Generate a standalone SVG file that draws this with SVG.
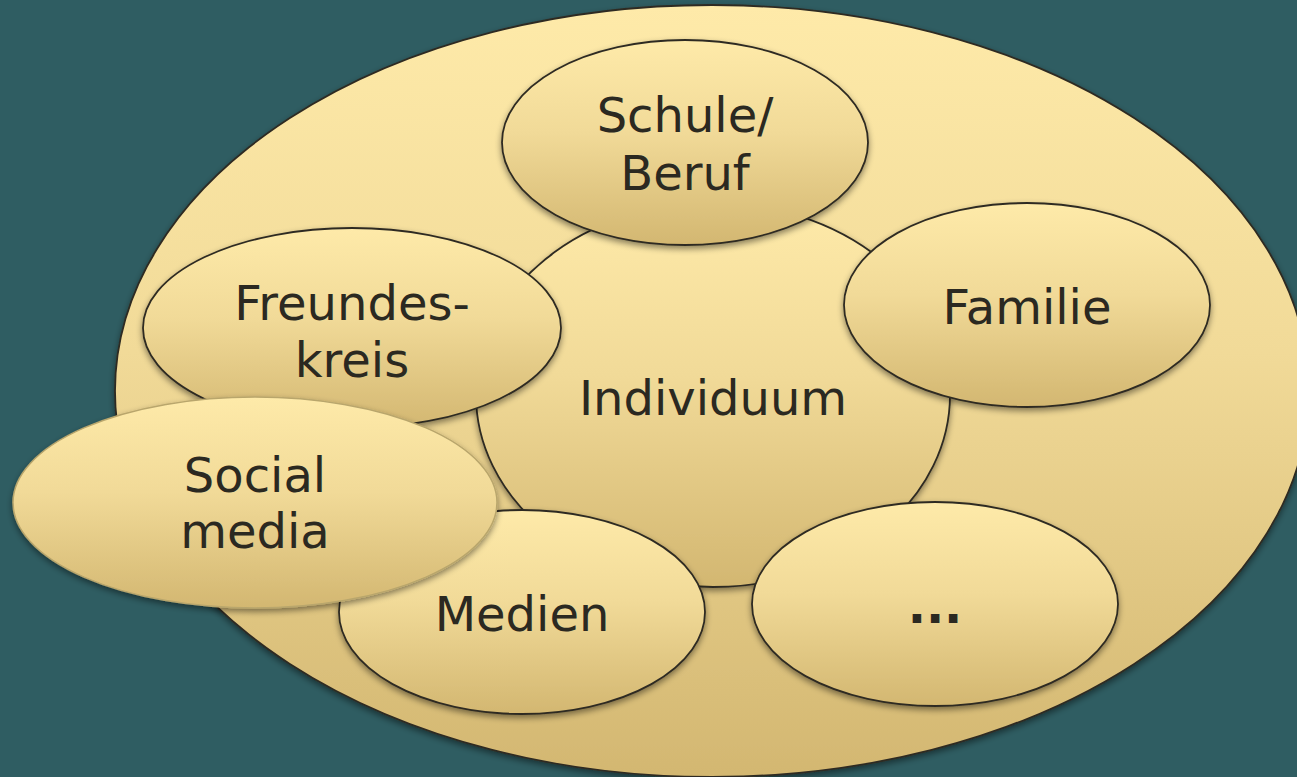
<svg xmlns="http://www.w3.org/2000/svg" width="1297" height="777" viewBox="0 0 1297 777">
  <defs>
    <linearGradient id="gold" x1="0" y1="0" x2="0" y2="1">
      <stop offset="0" stop-color="#FEEAA9"/>
      <stop offset="0.45" stop-color="#F1DA98"/>
      <stop offset="1" stop-color="#D3B771"/>
    </linearGradient>
    <filter id="shadow" x="-10%" y="-10%" width="120%" height="130%">
      <feDropShadow dx="0" dy="3" stdDeviation="3" flood-color="#000" flood-opacity="0.45"/>
    </filter>
  </defs>
  <style>
    .bg { fill: #2F5D62; }
    .node { fill: url(#gold); stroke: #2E2B22; stroke-width: 1.8; filter: url(#shadow); }
    .soft { fill: url(#gold); stroke: #B9A66C; stroke-width: 1.5; filter: url(#shadow); }
    .label { font-family: "DejaVu Sans", Verdana, sans-serif; font-size: 48px; fill: #2B2921; text-anchor: middle; }
    .dots { font-weight: bold; }
  </style>
  <rect class="bg" x="0" y="0" width="1297" height="777"/>

  <g id="outer">
    <ellipse class="node" cx="712" cy="391" rx="597" ry="386"/>
  </g>

  <g id="individuum">
    <ellipse class="node" cx="713" cy="395" rx="237" ry="192"/>
    <text class="label" x="713" y="415">Individuum</text>
  </g>

  <g id="schule">
    <ellipse class="node" cx="685" cy="142.5" rx="183" ry="102.5"/>
    <text class="label" x="685" y="132">Schule/</text>
    <text class="label" x="685" y="190">Beruf</text>
  </g>

  <g id="familie">
    <ellipse class="node" cx="1027" cy="305" rx="183" ry="102"/>
    <text class="label" x="1027" y="324">Familie</text>
  </g>

  <g id="freundeskreis">
    <ellipse class="node" cx="352" cy="328" rx="209" ry="100"/>
    <text class="label" x="352" y="320">Freundes-</text>
    <text class="label" x="352" y="377">kreis</text>
  </g>

  <g id="medien">
    <ellipse class="node" cx="522" cy="612" rx="183" ry="102"/>
    <text class="label" x="522" y="631">Medien</text>
  </g>

  <g id="etc">
    <ellipse class="node" cx="935" cy="604" rx="183" ry="102"/>
    <text class="label dots" x="935" y="623">...</text>
  </g>

  <g id="socialmedia">
    <ellipse class="soft" cx="255" cy="502.5" rx="242" ry="105.5"/>
    <text class="label" x="255" y="492">Social</text>
    <text class="label" x="255" y="548">media</text>
  </g>

  <g id="connectors"></g>
</svg>
